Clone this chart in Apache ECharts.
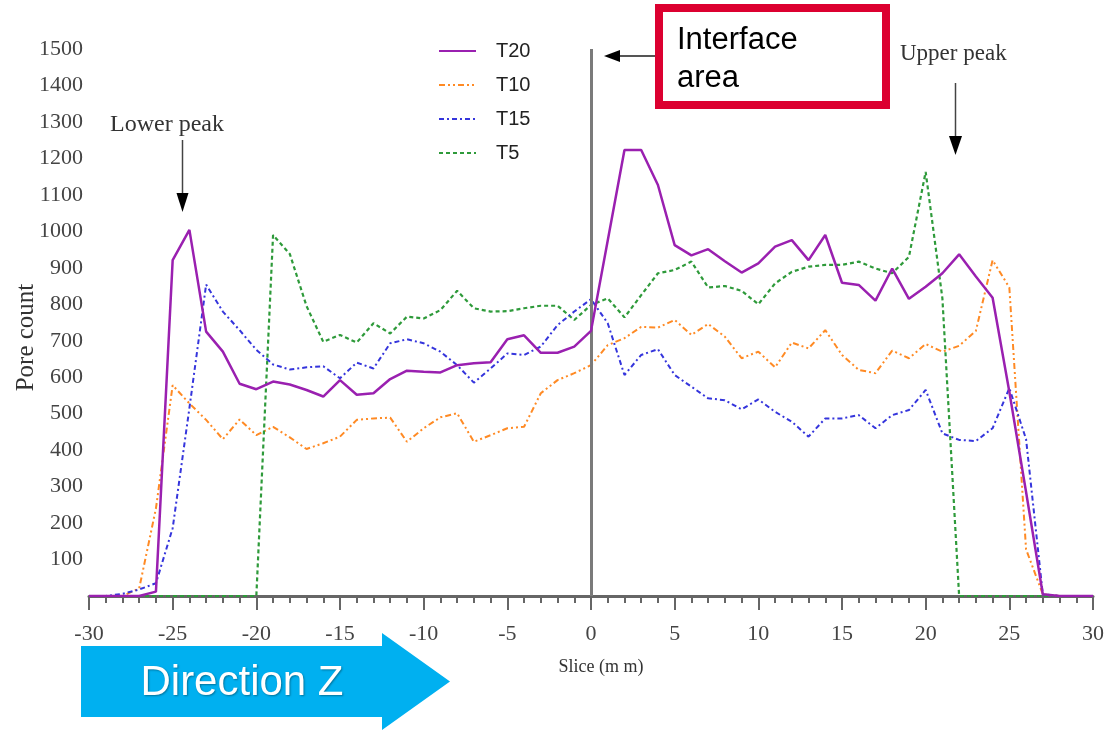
<!DOCTYPE html>
<html>
<head>
<meta charset="utf-8">
<style>
html,body{margin:0;padding:0;background:#fff;}
#chart{width:1120px;height:731px;}
</style>
<script src="https://cdn.jsdelivr.net/npm/echarts@6/dist/echarts.min.js"></script>
</head>
<body>
<div id="chart"></div>
<script>
// Slice positions (mm)
const slices = [-30,-29,-28,-27,-26,-25,-24,-23,-22,-21,-20,-19,-18,-17,-16,-15,-14,-13,-12,-11,-10,-9,-8,-7,-6,-5,-4,-3,-2,-1,0,1,2,3,4,5,6,7,8,9,10,11,12,13,14,15,16,17,18,19,20,21,22,23,24,25,26,27,28,29,30];

const T20 = [0,0,0,0,12,921,1004,725,670,582,567,588,580,565,547,592,552,556,595,618,615,613,633,638,641,704,715,667,667,684,727,975,1223,1223,1127,962,934,951,918,887,912,958,976,921,990,859,853,810,898,815,848,885,937,876,818,560,285,5,0,0,0];
const T10 = [0,0,0,21,240,578,528,483,430,484,441,464,435,403,419,437,483,487,489,423,460,490,501,423,441,460,464,556,592,611,633,688,707,738,736,757,716,746,711,652,670,627,695,679,729,661,620,611,673,652,691,670,686,727,921,846,128,5,0,0,0];
const T15 = [0,0,6,18,35,186,515,854,780,729,675,635,621,627,630,597,640,624,693,704,693,670,633,585,624,665,661,684,743,780,814,748,606,661,677,606,574,542,537,512,539,505,478,437,487,487,496,460,496,510,565,446,428,425,460,570,430,5,0,0,0];
const T5  = [0,0,0,0,0,0,0,0,0,0,0,990,938,795,697,716,695,748,720,766,761,784,837,789,780,781,789,796,796,757,798,816,764,825,885,894,917,846,850,837,800,857,889,903,908,908,917,898,885,930,1163,816,0,0,0,0,0,0,0,0,0];

const seriesNames = ['T20','T10','T15','T5'];
const yTickValues = [100,200,300,400,500,600,700,800,900,1000,1100,1200,1300,1400,1500];

function pairs(vals){ return slices.map((x,i)=>[x, vals[i]]); }

const chart = echarts.init(document.getElementById('chart'), null, {renderer:'canvas'});

const serif = '"Liberation Serif", "DejaVu Serif", serif';
const sans = '"Liberation Sans", Arial, sans-serif';

const option = {
  backgroundColor:'#ffffff',
  animation:false,
  grid:{left:89, right:27, top:49, bottom:135, outerBoundsMode:'none', containLabel:false},
  legend:{
    orient:'vertical', left:433, top:36,
    itemWidth:37, itemHeight:14, itemGap:14,
    data:seriesNames,
    itemStyle:{opacity:0},
    textStyle:{fontFamily:sans, fontSize:20, color:'#222', padding:[0,0,0,15]}
  },
  xAxis:{
    type:'value', min:-30, max:30, interval:5,
    name:'Slice (m m)', nameLocation:'middle', nameGap:62, nameMoveOverlap:false,
    nameTextStyle:{fontFamily:serif, fontSize:18, color:'#333', padding:[0,0,0,20]},
    axisLine:{show:true, onZero:false, lineStyle:{color:'#666', width:3}},
    axisTick:{show:true, length:14, lineStyle:{color:'#666', width:2}},
    minorTick:{show:true, splitNumber:5, length:7, lineStyle:{color:'#666', width:2}},
    axisLabel:{fontFamily:serif, fontSize:22, color:'#444', margin:27},
    splitLine:{show:false}
  },
  yAxis:{
    type:'value', min:0, max:1500, interval:100,
    name:'Pore count', nameLocation:'middle', nameGap:50, nameRotate:90, nameMoveOverlap:false,
    nameTextStyle:{fontFamily:serif, fontSize:25, color:'#333', padding:[0,30,0,0]},
    axisLine:{show:false}, axisTick:{show:false}, splitLine:{show:false},
    axisLabel:{fontFamily:serif, fontSize:22, color:'#444', margin:6,
      formatter:function(v){ return yTickValues.indexOf(v) >= 0 ? String(v) : ''; }}
  },
  series:[
    {name:'T20', type:'line', symbol:'none', data:pairs(T20), z:5,
     lineStyle:{color:'#9a20b0', width:2.5, type:'solid'}, itemStyle:{color:'#9a20b0'},
     markLine:{silent:true, symbol:'none', label:{show:false},
       lineStyle:{color:'#7a7a7a', width:3, type:'solid'}, data:[{xAxis:0}]}},
    {name:'T10', type:'line', symbol:'none', data:pairs(T10), z:3,
     lineStyle:{color:'#ff8a24', width:2, type:[6,3,2,3,2,3]}, itemStyle:{color:'#ff8a24'}},
    {name:'T15', type:'line', symbol:'none', data:pairs(T15), z:4,
     lineStyle:{color:'#3535dc', width:2, type:[5,3,2,3]}, itemStyle:{color:'#3535dc'}},
    {name:'T5', type:'line', symbol:'none', data:pairs(T5), z:3,
     lineStyle:{color:'#2e9a3a', width:2.2, type:[4,3]}, itemStyle:{color:'#2e9a3a'}}
  ],
  graphic:[
    // Interface area box
    {type:'rect', shape:{x:659, y:8, width:227, height:97},
     style:{fill:'#ffffff', stroke:'#dc0030', lineWidth:8}, z:100},
    {type:'text', style:{x:677, y:40, text:'Interface', font:'31px ' + sans, fill:'#000', textVerticalAlign:'middle'}, z:101},
    {type:'text', style:{x:677, y:78, text:'area', font:'31px ' + sans, fill:'#000', textVerticalAlign:'middle'}, z:101},
    // Interface arrow
    {type:'line', shape:{x1:655, y1:56, x2:618, y2:56}, style:{stroke:'#555', lineWidth:2}, z:100},
    {type:'polygon', shape:{points:[[604,56],[620,50],[620,62]]}, style:{fill:'#000'}, z:100},
    // Lower peak
    {type:'text', style:{x:110, y:125, text:'Lower peak', font:'24px ' + serif, fill:'#333', textVerticalAlign:'middle'}, z:100},
    {type:'line', shape:{x1:182.5, y1:140, x2:182.5, y2:196}, style:{stroke:'#444', lineWidth:1.5}, z:100},
    {type:'polygon', shape:{points:[[182.5,212],[176.5,193],[188.5,193]]}, style:{fill:'#000'}, z:100},
    // Upper peak
    {type:'text', style:{x:900, y:54, text:'Upper peak', font:'23px ' + serif, fill:'#333', textVerticalAlign:'middle'}, z:100},
    {type:'line', shape:{x1:955.5, y1:83, x2:955.5, y2:139}, style:{stroke:'#444', lineWidth:1.5}, z:100},
    {type:'polygon', shape:{points:[[955.5,155],[949,136],[962,136]]}, style:{fill:'#000'}, z:100},
    // Direction Z arrow
    {type:'polygon', shape:{points:[[81,646],[382,646],[382,633],[450,681.5],[382,730],[382,717],[81,717]]},
     style:{fill:'#00b0f0'}, z:100},
    {type:'text', style:{x:242, y:683, text:'Direction Z', font:'42px ' + sans, fill:'#ffffff',
      textAlign:'center', textVerticalAlign:'middle', textShadowColor:'rgba(0,0,0,0.35)', textShadowBlur:2, textShadowOffsetX:1, textShadowOffsetY:1}, z:101}
  ]
};
chart.setOption(option);
</script>
</body>
</html>
